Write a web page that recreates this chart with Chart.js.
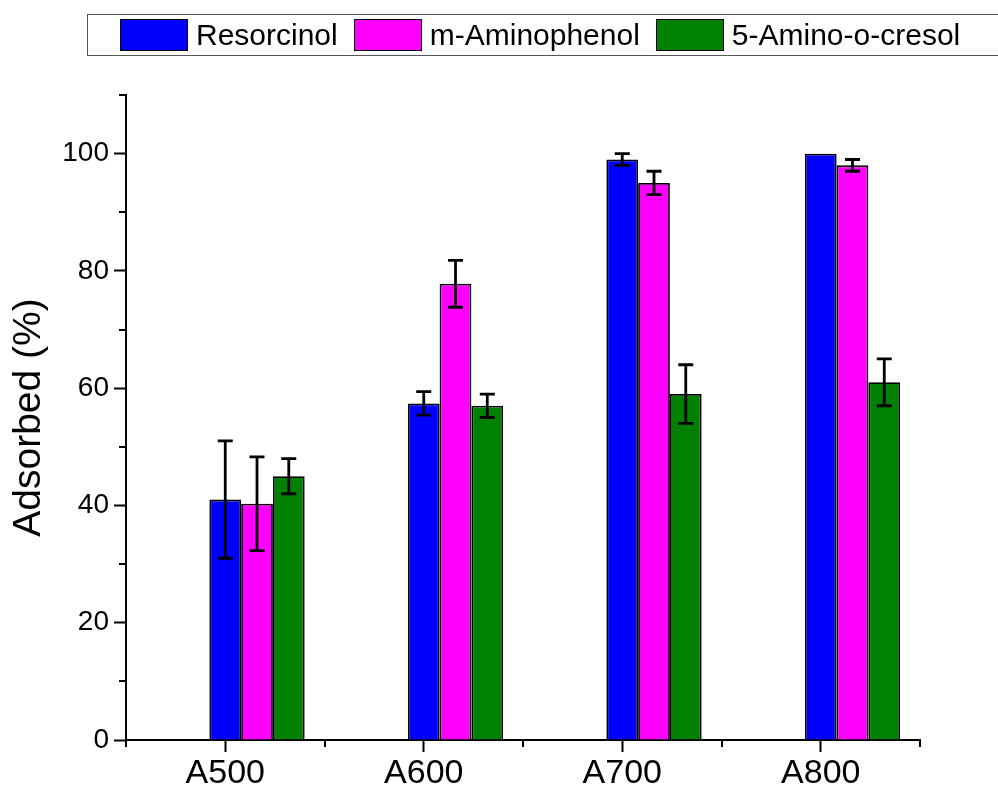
<!DOCTYPE html>
<html>
<head>
<meta charset="utf-8">
<script src="https://cdn.jsdelivr.net/npm/chart.js@4/dist/chart.umd.min.js"></script>
<style>
  html, body { margin: 0; padding: 0; background: #fff; overflow: hidden; }
  #wrap { position: relative; width: 998px; height: 796px; }
  #chart { position: absolute; left: 0; top: 0; }
  #legend {
    position: absolute; left: 87px; top: 14px; width: 940px; height: 40px;
    border: 1.5px solid #555; box-sizing: content-box;
    display: flex; align-items: center; padding-left: 32px;
    font-family: 'Liberation Sans', Arial, sans-serif; font-size: 30px; color: #000;
  }
  #legend .item { display: flex; align-items: center; margin-right: 16px; }
  #legend .swatch { width: 66px; height: 30px; border: 1.5px solid #000; margin-right: 8px; }
</style>
</head>
<body>
<div id="wrap">
  <canvas id="chart" width="998" height="796"></canvas>
  <div id="legend"></div>
</div>
<script>
// Samples and measured adsorption (%) with standard deviations
const categories = ['A500', 'A600', 'A700', 'A800'];
const resorcinol = [41, 57.4, 99, 100];
const resorcinolErr = [10, 2, 1, 0];
const aminophenol = [40.3, 77.8, 95, 98];
const aminophenolErr = [8, 4, 2, 1];
const aminocresol = [45, 57, 59, 61];
const aminocresolErr = [3, 2, 5, 4];
const yTicks = [0, 20, 40, 60, 80, 100];
const yMinorTicks = [10, 30, 50, 70, 90, 110];

const FONT = "'Liberation Sans', Arial, sans-serif";

// Two empty slots keep each sample's tick centred on its first bar
const spacer = () => ({ label: '', spacer: true, data: categories.map(() => null) });
const series = (label, data, errors, color) => ({
  label, data, errors,
  backgroundColor: color, borderColor: '#000', borderWidth: 1.8,
  categoryPercentage: 0.8, barPercentage: 1.0
});

// Vertical error bars with flat caps
const errorBars = {
  id: 'errorBars',
  afterDatasetsDraw(chart) {
    const ctx = chart.ctx, y = chart.scales.y;
    chart.data.datasets.forEach((ds, i) => {
      if (!ds.errors) return;
      chart.getDatasetMeta(i).data.forEach((bar, j) => {
        const e = ds.errors[j];
        if (!e) return;
        const top = y.getPixelForValue(ds.data[j] + e);
        const bot = y.getPixelForValue(ds.data[j] - e);
        ctx.save();
        ctx.strokeStyle = '#000';
        ctx.lineWidth = 2.8;
        ctx.beginPath();
        ctx.moveTo(bar.x, top); ctx.lineTo(bar.x, bot);
        ctx.moveTo(bar.x - 7.5, top); ctx.lineTo(bar.x + 7.5, top);
        ctx.moveTo(bar.x - 7.5, bot); ctx.lineTo(bar.x + 7.5, bot);
        ctx.stroke();
        ctx.restore();
      });
    });
  }
};

// Short minor ticks on both axes
const minorTicks = {
  id: 'minorTicks',
  afterDraw(chart) {
    const ctx = chart.ctx, x = chart.scales.x, y = chart.scales.y;
    const area = chart.chartArea;
    const len = 7;
    ctx.save();
    ctx.strokeStyle = '#000';
    ctx.lineWidth = 2;
    ctx.beginPath();
    yMinorTicks.forEach(v => {
      const py = Math.round(y.getPixelForValue(v));
      ctx.moveTo(area.left, py); ctx.lineTo(area.left - len, py);
    });
    [-0.5].concat(categories.map((_, i) => i + 0.5)).forEach(v => {
      const px = Math.round(x.getPixelForValue(v));
      ctx.moveTo(px, area.bottom); ctx.lineTo(px, area.bottom + len);
    });
    ctx.stroke();
    ctx.restore();
  }
};

// Framed legend built from the datasets
const htmlLegend = {
  id: 'htmlLegend',
  afterUpdate(chart) {
    const box = document.getElementById('legend');
    box.innerHTML = '';
    chart.data.datasets.filter(ds => !ds.spacer).forEach(ds => {
      const item = document.createElement('div');
      item.className = 'item';
      const sw = document.createElement('span');
      sw.className = 'swatch';
      sw.style.background = ds.backgroundColor;
      const tx = document.createElement('span');
      tx.textContent = ds.label;
      item.appendChild(sw); item.appendChild(tx);
      box.appendChild(item);
    });
  }
};

new Chart(document.getElementById('chart'), {
  type: 'bar',
  data: {
    labels: categories,
    datasets: [
      spacer(), spacer(),
      series('Resorcinol', resorcinol, resorcinolErr, '#0000FF'),
      series('m-Aminophenol', aminophenol, aminophenolErr, '#FF00FF'),
      series('5-Amino-o-cresol', aminocresol, aminocresolErr, '#008000')
    ]
  },
  options: {
    responsive: false,
    animation: false,
    layout: { padding: { left: 0, right: 78, top: 95, bottom: 0 } },
    plugins: { legend: { display: false }, tooltip: { enabled: false } },
    scales: {
      x: {
        type: 'category',
        offset: true,
        grid: { offset: false, drawOnChartArea: false, tickLength: 12, tickColor: '#000', tickWidth: 2 },
        border: { color: '#000', width: 2 },
        ticks: { color: '#000', font: { family: FONT, size: 34 }, padding: 1, maxRotation: 0 },
        afterFit(s) { s.height = 56; }
      },
      y: {
        min: 0, max: 110,
        afterBuildTicks(s) { s.ticks = yTicks.map(v => ({ value: v })); },
        grid: { drawOnChartArea: false, tickLength: 12, tickColor: '#000', tickWidth: 2 },
        border: { color: '#000', width: 2 },
        ticks: { color: '#000', font: { family: FONT, size: 28 }, padding: 5 },
        title: { display: true, text: 'Adsorbed (%)', color: '#000', font: { family: FONT, size: 39 }, padding: { top: 6, bottom: 0 } },
        afterFit(s) { s.width = 126; }
      }
    }
  },
  plugins: [errorBars, minorTicks, htmlLegend]
});
</script>
</body>
</html>
